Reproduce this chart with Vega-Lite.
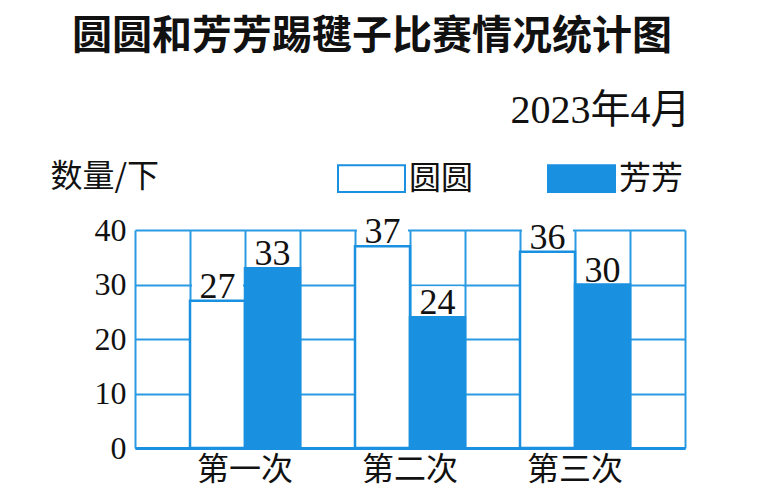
{
  "$schema": "https://vega.github.io/schema/vega-lite/v6.json",
  "width": 550,
  "height": 218,
  "autosize": {"type": "none"},
  "padding": {"left": 135, "top": 230, "right": 89, "bottom": 56},
  "background": "white",
  "title": {
    "text": "圆圆和芳芳踢毽子比赛情况统计图",
    "font": "Noto Sans CJK SC",
    "fontSize": 40,
    "fontWeight": "bold",
    "color": "#111111",
    "anchor": "start",
    "frame": "group",
    "dx": -63,
    "offset": 33
  },
  "config": {
    "view": {"stroke": null},
    "legend": {"padding": 0}
  },
  "data": {
    "values": [
      {"round": "第一次", "name": "圆圆", "count": 27},
      {"round": "第一次", "name": "芳芳", "count": 33},
      {"round": "第二次", "name": "圆圆", "count": 37},
      {"round": "第二次", "name": "芳芳", "count": 24},
      {"round": "第三次", "name": "圆圆", "count": 36},
      {"round": "第三次", "name": "芳芳", "count": 30}
    ]
  },
  "layer": [
    {
      "mark": {"type": "point", "opacity": 0},
      "encoding": {
        "x": {
          "datum": 0,
          "type": "quantitative",
          "scale": {"domain": [0, 10], "nice": false, "zero": false},
          "axis": {
            "orient": "top",
            "values": [0, 1, 2, 3, 4, 5, 6, 7, 8, 9, 10],
            "grid": true,
            "gridColor": "#2a9be3",
            "gridWidth": 2,
            "gridOpacity": 1,
            "labels": false,
            "ticks": false,
            "domain": false,
            "title": "2023年4月",
            "titleFont": "Liberation Serif, Noto Sans CJK SC",
            "titleFontSize": 40,
            "titleFontWeight": "normal",
            "titleColor": "#111111",
            "titleAlign": "right",
            "titleBaseline": "alphabetic",
            "titleX": 555,
            "titleY": -108
          }
        }
      }
    },
    {
      "encoding": {
        "x": {
          "field": "round",
          "type": "nominal",
          "sort": ["第一次", "第二次", "第三次"],
          "scale": {"paddingInner": 0.3333333, "paddingOuter": 0.3333333},
          "axis": {
            "orient": "bottom",
            "title": null,
            "labelAngle": 0,
            "labelFont": "Noto Sans CJK SC",
            "labelFontSize": 32,
            "labelColor": "#111111",
            "labelPadding": 6,
            "ticks": false,
            "domain": true,
            "domainColor": "#1a90e0",
            "domainWidth": 3,
            "grid": false
          }
        },
        "xOffset": {
          "field": "name",
          "type": "nominal",
          "sort": ["圆圆", "芳芳"],
          "scale": {"paddingInner": 0, "paddingOuter": 0}
        },
        "y": {
          "field": "count",
          "type": "quantitative",
          "scale": {"domain": [0, 40], "nice": false},
          "axis": {
            "values": [0, 10, 20, 30, 40],
            "grid": true,
            "gridColor": "#2a9be3",
            "gridWidth": 2,
            "gridOpacity": 1,
            "domain": false,
            "ticks": false,
            "labelFont": "Liberation Serif",
            "labelFontSize": 32,
            "labelColor": "#111111",
            "labelPadding": 9,
            "title": "数量/下",
            "titleFont": "Noto Sans CJK SC",
            "titleFontSize": 32,
            "titleFontWeight": "normal",
            "titleColor": "#111111",
            "titleAngle": 0,
            "titleAlign": "left",
            "titleBaseline": "alphabetic",
            "titleX": -85,
            "titleY": -44
          }
        }
      },
      "layer": [
        {
          "mark": {"type": "bar", "stroke": "#1a90e0", "strokeWidth": 2.5},
          "encoding": {
            "fill": {
              "field": "name",
              "type": "nominal",
              "sort": ["圆圆", "芳芳"],
              "scale": {"domain": ["圆圆", "芳芳"], "range": ["#ffffff", "#1a90e0"]},
              "legend": {
                "orient": "none",
                "legendX": 202,
                "legendY": -86,
                "direction": "horizontal",
                "title": null,
                "symbolType": "M-1,-0.4H1V0.4H-1Z",
                "symbolSize": 4489,
                "symbolStrokeColor": "#1a90e0",
                "symbolStrokeWidth": 2,
                "symbolOpacity": 1,
                "labelFont": "Noto Sans CJK SC",
                "labelFontSize": 32,
                "labelColor": "#111111",
                "labelOffset": 3,
                "columnPadding": 70
              }
            }
          }
        },
        {
          "mark": {"type": "bar", "fill": "#ffffff", "width": 51, "yOffset": -31, "y2Offset": -2},
          "encoding": {
            "y2": {"field": "count"}
          }
        },
        {
          "mark": {"type": "text", "font": "Liberation Serif", "fontSize": 36, "baseline": "alphabetic", "dy": -3, "color": "#111111"},
          "encoding": {
            "text": {"field": "count", "type": "quantitative"}
          }
        }
      ]
    }
  ],
  "resolve": {"scale": {"x": "independent"}, "axis": {"x": "independent"}}
}
